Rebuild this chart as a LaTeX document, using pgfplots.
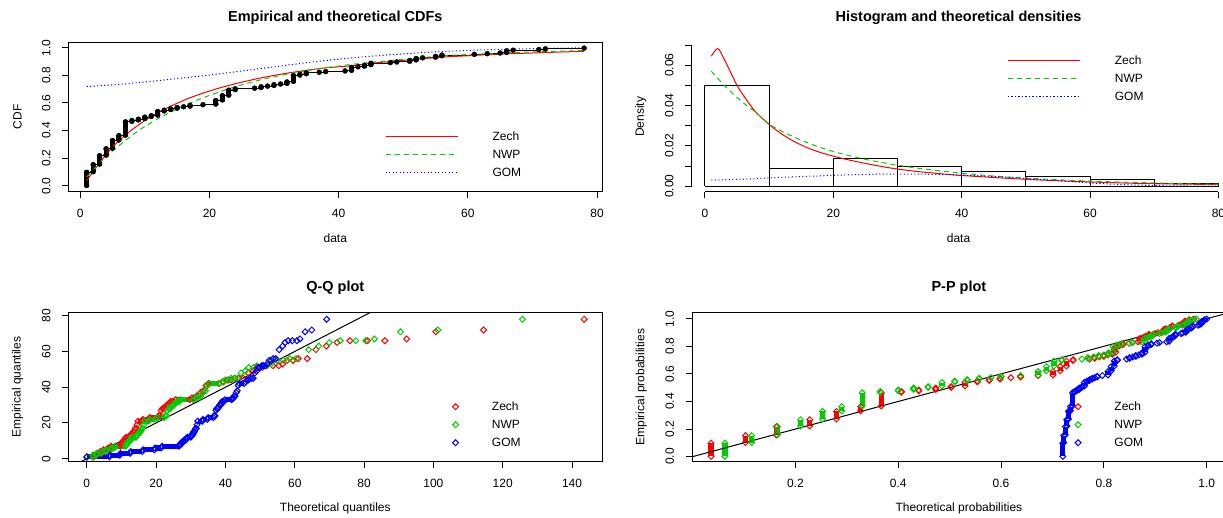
\documentclass[border=0pt]{standalone}
\usepackage{fontspec}
\setmainfont{Liberation Sans}
\usepackage{pgfplots}
\usepackage{pgfplotstable}
\pgfplotsset{compat=1.18}
\definecolor{rred}{RGB}{255,0,0}
\definecolor{rgreen}{RGB}{0,205,0}
\definecolor{rblue}{RGB}{0,0,255}
\newcommand{\fs}{\fontsize{6}{7}\selectfont}
\newcommand{\ft}{\fontsize{7.25}{8.5}\selectfont\bfseries}

% grouped empirical data: value v, empirical prob p, fitted cdf (fz,fn,fg), theoretical quantiles (qz,qn,qg)
\pgfplotstableread{
v p fz fn fg qz qn qg
1 0.0025 0.036 0.063 0.720 0.07 0.04 0.0
1 0.0975 0.036 0.063 0.720 1.92 1.66 6.5
nan nan nan nan nan nan nan nan
2 0.1025 0.103 0.115 0.722 1.99 1.76 6.7
2 0.1525 0.103 0.115 0.722 2.83 2.75 9.5
nan nan nan nan nan nan nan nan
3 0.1575 0.163 0.165 0.725 2.91 2.85 9.7
3 0.2175 0.163 0.165 0.725 3.84 4.17 12.5
nan nan nan nan nan nan nan nan
4 0.2225 0.228 0.210 0.728 3.92 4.29 12.7
4 0.2675 0.228 0.210 0.728 4.76 5.39 16.0
nan nan nan nan nan nan nan nan
5 0.2725 0.280 0.253 0.731 4.86 5.53 16.2
5 0.3275 0.280 0.253 0.731 6.01 6.94 19.5
nan nan nan nan nan nan nan nan
6 0.3325 0.327 0.290 0.735 6.12 7.07 19.7
6 0.3625 0.327 0.290 0.735 6.89 7.93 21.5
nan nan nan nan nan nan nan nan
7 0.3675 0.367 0.330 0.739 7.01 8.07 21.7
7 0.4625 0.367 0.330 0.739 9.68 11.17 26.6
nan nan nan nan nan nan nan nan
8 0.4675 0.406 0.365 0.743 9.83 11.35 26.8
nan nan nan nan nan nan nan nan
8 0.4725 0.406 0.365 0.743 9.98 11.54 27.1
nan nan nan nan nan nan nan nan
9 0.4775 0.440 0.400 0.747 10.15 11.72 27.3
nan nan nan nan nan nan nan nan
9 0.4825 0.440 0.400 0.747 10.32 11.90 27.6
nan nan nan nan nan nan nan nan
10 0.4875 0.473 0.430 0.752 10.48 12.10 27.8
nan nan nan nan nan nan nan nan
10 0.4925 0.473 0.430 0.752 10.65 12.30 28.0
nan nan nan nan nan nan nan nan
10 0.4975 0.473 0.430 0.752 10.82 12.50 28.3
nan nan nan nan nan nan nan nan
11 0.5025 0.503 0.458 0.757 10.98 12.70 28.5
nan nan nan nan nan nan nan nan
11 0.5075 0.503 0.458 0.757 11.17 12.90 28.8
nan nan nan nan nan nan nan nan
12 0.5125 0.530 0.485 0.762 11.35 13.10 29.0
12 0.5375 0.530 0.485 0.762 12.31 14.15 30.0
nan nan nan nan nan nan nan nan
13 0.5425 0.554 0.510 0.767 12.52 14.37 30.2
nan nan nan nan nan nan nan nan
13 0.5475 0.554 0.510 0.767 12.73 14.59 30.4
nan nan nan nan nan nan nan nan
14 0.5525 0.577 0.534 0.772 12.94 14.80 30.5
nan nan nan nan nan nan nan nan
14 0.5575 0.577 0.534 0.772 13.15 15.00 30.7
nan nan nan nan nan nan nan nan
15 0.5625 0.598 0.557 0.777 13.37 15.24 30.8
nan nan nan nan nan nan nan nan
15 0.5675 0.598 0.557 0.777 13.59 15.46 31.0
nan nan nan nan nan nan nan nan
16 0.5725 0.619 0.580 0.782 13.80 15.67 31.2
nan nan nan nan nan nan nan nan
17 0.5775 0.638 0.600 0.787 14.02 15.90 31.4
nan nan nan nan nan nan nan nan
17 0.5825 0.638 0.600 0.787 14.26 16.10 31.6
nan nan nan nan nan nan nan nan
19 0.5875 0.672 0.638 0.797 14.50 16.40 31.8
nan nan nan nan nan nan nan nan
21 0.5925 0.701 0.672 0.808 14.74 16.60 32.0
21 0.6175 0.701 0.672 0.808 15.93 17.90 33.3
nan nan nan nan nan nan nan nan
22 0.6225 0.715 0.688 0.814 16.19 18.20 33.5
22 0.6525 0.715 0.688 0.814 17.85 19.80 34.8
nan nan nan nan nan nan nan nan
23 0.6575 0.727 0.703 0.820 18.15 20.10 35.0
23 0.6925 0.727 0.703 0.820 20.40 22.30 36.5
nan nan nan nan nan nan nan nan
24 0.6975 0.740 0.718 0.826 20.76 22.60 36.7
nan nan nan nan nan nan nan nan
24 0.7025 0.740 0.718 0.826 21.10 23.00 37.0
nan nan nan nan nan nan nan nan
27 0.7075 0.772 0.757 0.844 21.46 23.30 37.3
nan nan nan nan nan nan nan nan
28 0.7125 0.782 0.769 0.850 21.80 23.60 37.5
nan nan nan nan nan nan nan nan
28 0.7175 0.782 0.769 0.850 22.20 24.00 37.8
nan nan nan nan nan nan nan nan
29 0.7225 0.791 0.780 0.856 22.60 24.40 38.0
nan nan nan nan nan nan nan nan
30 0.7275 0.800 0.790 0.862 23.04 24.80 38.3
nan nan nan nan nan nan nan nan
30 0.7325 0.800 0.790 0.862 23.42 25.20 38.6
nan nan nan nan nan nan nan nan
31 0.7375 0.808 0.800 0.868 23.80 25.50 38.8
nan nan nan nan nan nan nan nan
32 0.7425 0.816 0.809 0.874 24.20 25.90 39.0
nan nan nan nan nan nan nan nan
32 0.7475 0.816 0.809 0.874 24.70 26.30 39.3
nan nan nan nan nan nan nan nan
32 0.7525 0.816 0.809 0.874 25.20 26.70 39.6
nan nan nan nan nan nan nan nan
33 0.7575 0.823 0.818 0.880 25.60 27.00 39.8
33 0.7975 0.823 0.818 0.880 29.70 30.80 41.8
nan nan nan nan nan nan nan nan
34 0.8025 0.830 0.826 0.886 30.30 31.30 42.0
nan nan nan nan nan nan nan nan
34 0.8075 0.830 0.826 0.886 30.90 31.80 42.3
nan nan nan nan nan nan nan nan
35 0.8125 0.837 0.834 0.892 31.60 32.40 42.5
nan nan nan nan nan nan nan nan
35 0.8175 0.837 0.834 0.892 32.20 32.90 42.8
nan nan nan nan nan nan nan nan
37 0.8225 0.849 0.849 0.903 32.90 33.60 43.1
nan nan nan nan nan nan nan nan
38 0.8275 0.855 0.856 0.908 33.60 34.20 43.4
nan nan nan nan nan nan nan nan
41 0.8325 0.866 0.874 0.922 34.40 34.80 43.7
nan nan nan nan nan nan nan nan
42 0.8375 0.870 0.880 0.927 35.10 35.40 44.0
42 0.8575 0.870 0.880 0.927 38.20 38.10 45.4
nan nan nan nan nan nan nan nan
43 0.8625 0.876 0.885 0.931 39.50 39.10 45.8
nan nan nan nan nan nan nan nan
44 0.8675 0.881 0.890 0.935 40.50 40.00 46.2
nan nan nan nan nan nan nan nan
44 0.8725 0.881 0.890 0.935 41.60 40.90 46.6
nan nan nan nan nan nan nan nan
45 0.8775 0.888 0.895 0.939 42.70 41.60 47.0
nan nan nan nan nan nan nan nan
45 0.8825 0.888 0.895 0.939 43.90 42.50 47.5
nan nan nan nan nan nan nan nan
45 0.8875 0.888 0.895 0.939 45.10 43.50 48.0
nan nan nan nan nan nan nan nan
48 0.8925 0.900 0.908 0.950 46.60 44.50 48.5
nan nan nan nan nan nan nan nan
49 0.8975 0.905 0.912 0.953 48.00 45.70 49.0
nan nan nan nan nan nan nan nan
51 0.9025 0.913 0.920 0.959 49.00 46.70 49.5
nan nan nan nan nan nan nan nan
51 0.9075 0.913 0.920 0.959 50.70 48.10 50.0
nan nan nan nan nan nan nan nan
52 0.9125 0.917 0.924 0.962 52.00 49.10 50.5
nan nan nan nan nan nan nan nan
52 0.9175 0.917 0.924 0.962 53.70 50.50 51.0
nan nan nan nan nan nan nan nan
52 0.9225 0.917 0.924 0.962 55.40 51.90 51.5
nan nan nan nan nan nan nan nan
53 0.9275 0.921 0.928 0.965 56.50 53.20 52.0
nan nan nan nan nan nan nan nan
55 0.9325 0.929 0.940 0.970 57.80 54.80 52.6
nan nan nan nan nan nan nan nan
55 0.9375 0.929 0.940 0.970 59.50 56.70 53.2
nan nan nan nan nan nan nan nan
56 0.9425 0.933 0.943 0.973 61.00 58.50 53.8
nan nan nan nan nan nan nan nan
56 0.9475 0.933 0.943 0.973 63.60 60.40 54.5
nan nan nan nan nan nan nan nan
61 0.9525 0.945 0.953 0.983 66.10 64.00 55.5
nan nan nan nan nan nan nan nan
63 0.9575 0.950 0.957 0.986 69.10 66.90 56.5
nan nan nan nan nan nan nan nan
65 0.9625 0.954 0.961 0.989 72.20 70.00 57.2
nan nan nan nan nan nan nan nan
66 0.9675 0.956 0.963 0.990 75.90 73.10 58.1
nan nan nan nan nan nan nan nan
66 0.9725 0.956 0.963 0.990 81.00 77.60 59.3
nan nan nan nan nan nan nan nan
66 0.9775 0.956 0.963 0.990 86.00 80.50 60.6
nan nan nan nan nan nan nan nan
67 0.9825 0.958 0.965 0.991 92.30 83.00 61.5
nan nan nan nan nan nan nan nan
71 0.9875 0.964 0.971 0.995 100.70 90.50 63.0
nan nan nan nan nan nan nan nan
72 0.9925 0.966 0.973 0.996 114.50 101.30 64.9
nan nan nan nan nan nan nan nan
78 0.9975 0.975 0.980 1.000 143.50 125.70 69.2
}\grp

\pgfplotstableread{
x zd nd gd
1 0.0645 0.0570 0.0030
2 0.0683 0.0535 0.0031
3 0.0630 0.0500 0.0032
4 0.0565 0.0470 0.0033
5 0.0500 0.0440 0.0034
6 0.0450 0.0413 0.0035
7 0.0405 0.0388 0.0036
8 0.0365 0.0365 0.0037
10 0.0306 0.0308 0.0041
12 0.0258 0.0272 0.0044
14 0.0220 0.0242 0.0046
16 0.0190 0.0215 0.0049
18 0.0167 0.0192 0.0051
20 0.0149 0.0172 0.0054
22 0.0133 0.0155 0.0056
25 0.0113 0.0133 0.0058
28 0.0095 0.0115 0.0060
30 0.0085 0.0104 0.0060
33 0.0073 0.0090 0.0060
35 0.0067 0.0082 0.0059
38 0.0058 0.0071 0.0057
40 0.0053 0.0064 0.0055
45 0.0043 0.0050 0.0048
50 0.0034 0.0040 0.0038
55 0.0027 0.0032 0.0027
60 0.0021 0.0025 0.0016
65 0.0016 0.0020 0.0008
70 0.0012 0.0016 0.0003
75 0.0010 0.0012 0.0001
80 0.0008 0.0010 0.0000
}\dens

% histogram bins: outline corners of each bar (bin edges and densities)
\pgfplotstableread{
x y
0 0
0 0.0500
10 0.0500
10 0
10 0.0088
20 0.0088
20 0
20 0.0137
30 0.0137
30 0
30 0.0098
40 0.0098
40 0
40 0.0071
50 0.0071
50 0
50 0.0048
60 0.0048
60 0
60 0.0031
70 0.0031
70 0
70 0.0012
80 0.0012
80 0
0 0
}\hist

\pgfplotsset{
  rpanel/.style={
    scale only axis, width=266.9pt, height=74.7pt,
    anchor=south west,
    tick align=outside, major tick length=3.2pt,
    xtick pos=left, ytick pos=left,
    scaled ticks=false,
    axis line style={line width=0.5pt},
    every tick/.style={black, line width=0.5pt},
    tick label style={font=\fs, inner sep=0pt},
    xticklabel style={anchor=north},
    yticklabel style={rotate=90, anchor=south},
    xticklabel shift=5.15pt,
    yticklabel shift=5.6pt,
    every axis x label/.style={at={(axis description cs:0.5,0)}, yshift=-23.3pt, anchor=center, font=\fs},
    every axis y label/.style={at={(axis description cs:0,0.5)}, xshift=-25.4pt, rotate=90, anchor=center, font=\fs},
    every axis title/.style={at={(axis description cs:0.5,1)}, yshift=12.2pt, anchor=center, font=\ft},
    legend style={draw=none, fill=none, inner sep=0pt, outer sep=0pt, anchor=north west,
      row sep=3.4pt, font=\fs, cells={anchor=base west},
      nodes={inner sep=0pt, text height=4.3pt, text depth=1.3pt},
      /tikz/every even column/.style={column sep=0pt},
      /tikz/every odd column/.style={column sep=0pt}},
  },
  linelegend/.style={legend image code/.code={\path[draw=none,fill=none] (0pt,0pt) -- (53.5pt,0pt); \draw[##1] (0pt,2.15pt) -- (36pt,2.15pt);}},
  marklegend/.style={legend image code/.code={\path[draw=none,fill=none] (0pt,0pt) -- (53.5pt,0pt); \draw[##1] plot coordinates {(35.3pt,2.15pt)};}},
  dia/.style={only marks, mark=square, mark size=1.05pt, mark options={rotate=45, solid, line width=0.5pt}},
  zleg/.style={draw=rred, color=rred, line width=0.5pt, solid},
  nleg/.style={draw=rgreen, color=rgreen, line width=0.5pt, dash pattern=on 2.5pt off 2pt},
  gleg/.style={draw=rblue, color=rblue, line width=0.5pt, dash pattern=on 0.55pt off 1.2pt},
}

\begin{document}
\begin{tikzpicture}
\path[use as bounding box] (0pt,0pt) rectangle (611.5pt,259pt);

% ---------- Panel 1: CDFs ----------
\begin{axis}[rpanel, linelegend, at={(34.2pt,163.15pt)},
  xmin=-1.83, xmax=80.8, ymin=-0.043, ymax=1.04,
  xtick={0,20,40,60,80}, xticklabels={0,20,40,60,80},
  ytick={0,0.2,0.4,0.6,0.8,1}, yticklabels={0.0,0.2,0.4,0.6,0.8,1.0},
  title={Empirical and theoretical CDFs}, xlabel={data}, ylabel={CDF},
  legend style={at={(0.5931,0.3983)}}]
\addplot[black, line width=0.5pt, const plot, unbounded coords=discard, forget plot] table[x=v,y=p]{\grp};
\addplot[black, line width=2.5pt, line cap=round, unbounded coords=jump, forget plot] table[x=v,y=p]{\grp};
\addplot[black, only marks, mark=*, mark size=1.25pt, mark options={fill=black, line width=0.2pt}, forget plot] table[x=v,y=p]{\grp};
\addplot[rred, line width=0.5pt, unbounded coords=discard, forget plot] table[x=v,y=fz]{\grp};
\addplot[rgreen, line width=0.5pt, dash pattern=on 2.5pt off 2pt, unbounded coords=discard, forget plot] table[x=v,y=fn]{\grp};
\addplot[rblue, line width=0.5pt, dash pattern=on 0.55pt off 1.2pt, unbounded coords=discard, forget plot] table[x=v,y=fg]{\grp};
\addlegendimage{zleg}
\addlegendentry{Zech}
\addlegendimage{nleg}
\addlegendentry{NWP}
\addlegendimage{gleg}
\addlegendentry{GOM}
\end{axis}

% ---------- Panel 2: histogram and densities ----------
\begin{axis}[rpanel, linelegend, at={(345.8pt,163.15pt)},
  xmin=-2.08, xmax=81.08, ymin=-0.00274, ymax=0.0714,
  axis line style={draw=none}, clip=false,
  xtick={0,20,40,60,80}, xticklabels={0,20,40,60,80},
  ytick={0,0.01,0.02,0.03,0.04,0.05,0.06,0.07}, yticklabels={0.00,,0.02,,0.04,,0.06,},
  title={Histogram and theoretical densities}, xlabel={data}, ylabel={Density},
  legend style={at={(0.5916,0.9070)}}]
\addplot[black, line width=0.5pt, sharp plot, forget plot] table[x=x,y=y]{\hist};
\addplot[rred, line width=0.5pt, smooth, forget plot] table[x=x,y=zd]{\dens};
\addplot[rgreen, line width=0.5pt, smooth, dash pattern=on 2.5pt off 2pt, forget plot] table[x=x,y=nd]{\dens};
\addplot[rblue, line width=0.5pt, smooth, dash pattern=on 0.55pt off 1.2pt, forget plot] table[x=x,y=gd]{\dens};
\draw[black, line width=0.5pt] (axis cs:0,-0.00274) -- (axis cs:80,-0.00274);
\draw[black, line width=0.5pt] (axis cs:-2.08,0) -- (axis cs:-2.08,0.07);
\addlegendimage{zleg}
\addlegendentry{Zech}
\addlegendimage{nleg}
\addlegendentry{NWP}
\addlegendimage{gleg}
\addlegendentry{GOM}
\end{axis}

% ---------- Panel 3: Q-Q ----------
\begin{axis}[rpanel, marklegend, at={(34.2pt,28.05pt)},
  xmin=-5.31, xmax=148.7, ymin=-1.8, ymax=81.8,
  xtick={0,20,40,60,80,100,120,140}, xticklabels={0,20,40,60,80,100,120,140},
  ytick={0,20,40,60,80}, yticklabels={0,20,40,60,80},
  title={Q-Q plot}, xlabel={Theoretical quantiles}, ylabel={Empirical quantiles},
  legend style={at={(0.5931,0.3983)}}]
\addplot[rred, line width=2.6pt, unbounded coords=jump, forget plot] table[x=qz,y=v]{\grp};
\addplot[rred, dia, forget plot] table[x=qz,y=v]{\grp};
\addplot[rgreen, line width=2.6pt, unbounded coords=jump, forget plot] table[x=qn,y=v]{\grp};
\addplot[rgreen, dia, forget plot] table[x=qn,y=v]{\grp};
\addplot[rblue, line width=2.6pt, unbounded coords=jump, forget plot] table[x=qg,y=v]{\grp};
\addplot[rblue, dia, forget plot] table[x=qg,y=v]{\grp};
\addplot[black, line width=0.5pt, forget plot] coordinates {(-10,-10) (100,100)};
\addlegendimage{draw=rred, color=rred, mark=square, mark size=1.05pt, mark options={rotate=45, line width=0.5pt}}
\addlegendentry{Zech}
\addlegendimage{draw=rgreen, color=rgreen, mark=square, mark size=1.05pt, mark options={rotate=45, line width=0.5pt}}
\addlegendentry{NWP}
\addlegendimage{draw=rblue, color=rblue, mark=square, mark size=1.05pt, mark options={rotate=45, line width=0.5pt}}
\addlegendentry{GOM}
\end{axis}

% ---------- Panel 4: P-P ----------
\begin{axis}[rpanel, marklegend, at={(346pt,28.05pt)},
  xmin=-0.001, xmax=1.037, ymin=-0.038, ymax=1.045,
  xtick={0.2,0.4,0.6,0.8,1.0}, xticklabels={0.2,0.4,0.6,0.8,1.0},
  ytick={0,0.2,0.4,0.6,0.8,1}, yticklabels={0.0,0.2,0.4,0.6,0.8,1.0},
  title={P-P plot}, xlabel={Theoretical probabilities}, ylabel={Empirical probabilities},
  legend style={at={(0.591,0.3983)}}]
\addplot[rred, line width=2.6pt, unbounded coords=jump, forget plot] table[x=fz,y=p]{\grp};
\addplot[rred, dia, forget plot] table[x=fz,y=p]{\grp};
\addplot[rgreen, line width=2.6pt, unbounded coords=jump, forget plot] table[x=fn,y=p]{\grp};
\addplot[rgreen, dia, forget plot] table[x=fn,y=p]{\grp};
\addplot[rblue, line width=2.6pt, unbounded coords=jump, forget plot] table[x=fg,y=p]{\grp};
\addplot[rblue, dia, forget plot] table[x=fg,y=p]{\grp};
\addplot[black, line width=0.5pt, forget plot] coordinates {(-0.1,-0.1) (1.2,1.2)};
\addlegendimage{draw=rred, color=rred, mark=square, mark size=1.05pt, mark options={rotate=45, line width=0.5pt}}
\addlegendentry{Zech}
\addlegendimage{draw=rgreen, color=rgreen, mark=square, mark size=1.05pt, mark options={rotate=45, line width=0.5pt}}
\addlegendentry{NWP}
\addlegendimage{draw=rblue, color=rblue, mark=square, mark size=1.05pt, mark options={rotate=45, line width=0.5pt}}
\addlegendentry{GOM}
\end{axis}
\end{tikzpicture}
\end{document}
